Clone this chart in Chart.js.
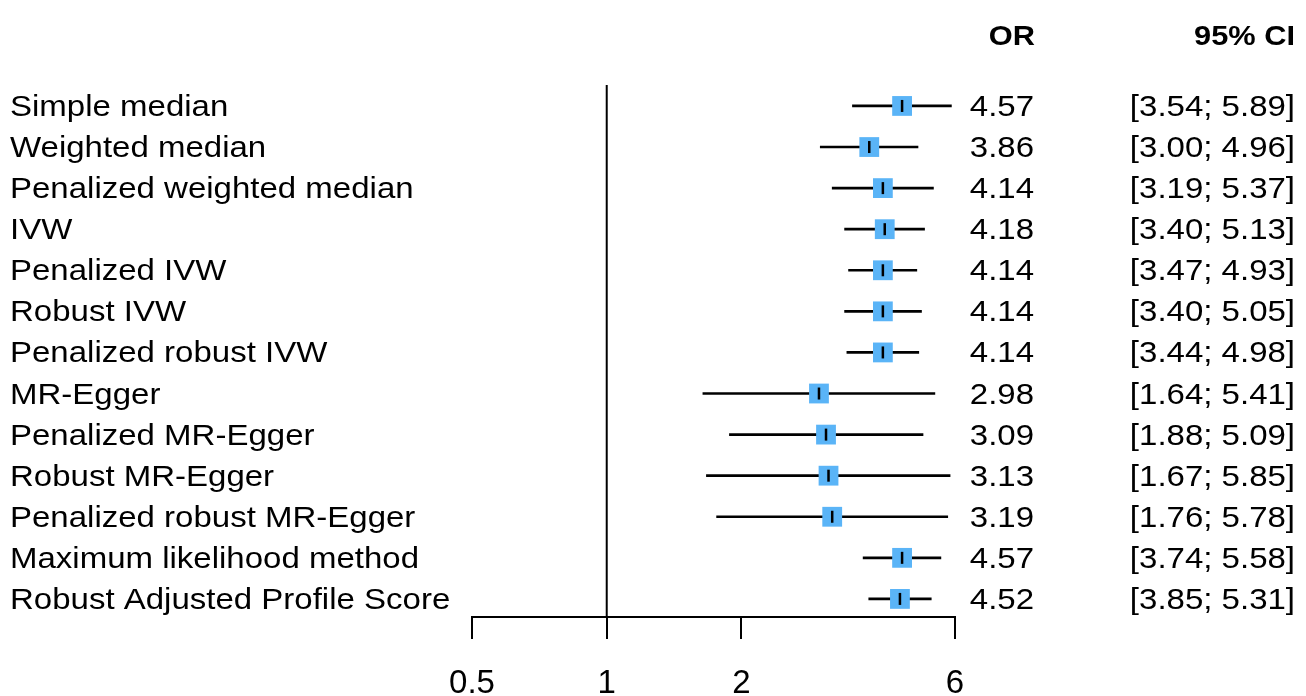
<!DOCTYPE html>
<html>
<head>
<meta charset="utf-8">
<script src="https://cdn.jsdelivr.net/npm/chart.js@4"></script>
<style>
  html, body { margin: 0; padding: 0; background: #fff; }
  #wrap { width: 1306px; height: 696px; position: relative; }
</style>
</head>
<body>
<div id="wrap"><canvas id="forest"></canvas></div>
<script>
// data
const methods = ["Simple median", "Weighted median", "Penalized weighted median", "IVW",
    "Penalized IVW", "Robust IVW", "Penalized robust IVW", "MR-Egger", "Penalized MR-Egger",
    "Robust MR-Egger", "Penalized robust MR-Egger", "Maximum likelihood method",
    "Robust Adjusted Profile Score"];
const orVals = [4.57, 3.86, 4.14, 4.18, 4.14, 4.14, 4.14, 2.98, 3.09, 3.13, 3.19, 4.57, 4.52];
const ciLow  = [3.54, 3.00, 3.19, 3.40, 3.47, 3.40, 3.44, 1.64, 1.88, 1.67, 1.76, 3.74, 3.85];
const ciHigh = [5.89, 4.96, 5.37, 5.13, 4.93, 5.05, 4.98, 5.41, 5.09, 5.85, 5.78, 5.58, 5.31];
const xTicks = [0.5, 1, 2, 6];
const refValue = 1;

const FONT = "'Liberation Sans', Arial, sans-serif";
const SX = 1.1; // text in the picture is a bit wider than tall

function drawText(ctx, s, x, y, align, font) {
    ctx.save();
    ctx.translate(x, y);
    ctx.scale(SX, 1);
    ctx.font = font;
    ctx.textAlign = align;
    ctx.textBaseline = "alphabetic";
    ctx.fillStyle = "#000";
    ctx.fillText(s, 0, 0);
    ctx.restore();
}

// reference line + text columns
const forestText = {
    id: "forestText",
    beforeDatasetsDraw(chart) {
        const ctx = chart.ctx;
        const xs = chart.scales.x;
        const a = chart.chartArea;
        const px = xs.getPixelForValue(refValue);
        ctx.save();
        ctx.strokeStyle = "#000";
        ctx.lineWidth = 2;
        ctx.beginPath();
        ctx.moveTo(px, a.top);
        ctx.lineTo(px, a.bottom);
        ctx.stroke();
        ctx.restore();
    },
    afterDraw(chart) {
        const ctx = chart.ctx;
        const ys = chart.scales.y;
        const f = "30px " + FONT;
        drawText(ctx, "OR", 1035, 45, "right", "bold 28px " + FONT);
        drawText(ctx, "95% CI", 1295, 45, "right", "bold 28px " + FONT);
        methods.forEach((m, i) => {
            const y = ys.getPixelForValue(i) + 10;
            drawText(ctx, m, 10, y, "left", f);
            drawText(ctx, orVals[i].toFixed(2), 1034, y, "right", f);
            drawText(ctx, "[" + ciLow[i].toFixed(2) + "; " + ciHigh[i].toFixed(2) + "]", 1295, y, "right", f);
        });
    }
};

const rowIdx = methods.map((m, i) => i);

new Chart(document.getElementById("forest"), {
    type: "bar",
    data: {
        datasets: [
            {
                type: "scatter",
                order: 1,
                data: rowIdx.map(i => ({ x: orVals[i], y: i })),
                pointStyle: "line",
                rotation: 90,
                pointRadius: 6,
                borderColor: "#000",
                borderWidth: 2.5
            },
            {
                type: "scatter",
                order: 2,
                data: rowIdx.map(i => ({ x: orVals[i], y: i })),
                pointStyle: "rect",
                pointRadius: 14,
                backgroundColor: "#5ab4f7",
                borderWidth: 0
            },
            {
                type: "bar",
                order: 3,
                data: rowIdx.map(i => ({ x: [ciLow[i], ciHigh[i]], y: i })),
                backgroundColor: "#000",
                barThickness: 2,
                borderWidth: 0
            }
        ]
    },
    options: {
        indexAxis: "y",
        responsive: true,
        maintainAspectRatio: false,
        animation: false,
        events: [],
        layout: { padding: { top: 85, left: 472, right: 351, bottom: 0 } },
        plugins: { legend: { display: false }, tooltip: { enabled: false } },
        scales: {
            x: {
                type: "logarithmic",
                position: "bottom",
                min: 0.5,
                max: 6,
                afterBuildTicks: s => { s.ticks = xTicks.map(v => ({ value: v })); },
                afterFit: s => { s.height = 79; },
                border: { display: true, color: "#000", width: 2 },
                grid: { drawOnChartArea: false, drawTicks: true, tickLength: 22, color: "#000", lineWidth: 2 },
                ticks: {
                    autoSkip: false,
                    maxRotation: 0,
                    padding: 25,
                    color: "#000",
                    font: { family: FONT, size: 33 },
                    callback: v => String(v)
                }
            },
            y: {
                type: "linear",
                reverse: true,
                offset: false,
                min: -0.51,
                max: 12.44,
                display: false
            }
        }
    },
    plugins: [forestText]
});
</script>
</body>
</html>
